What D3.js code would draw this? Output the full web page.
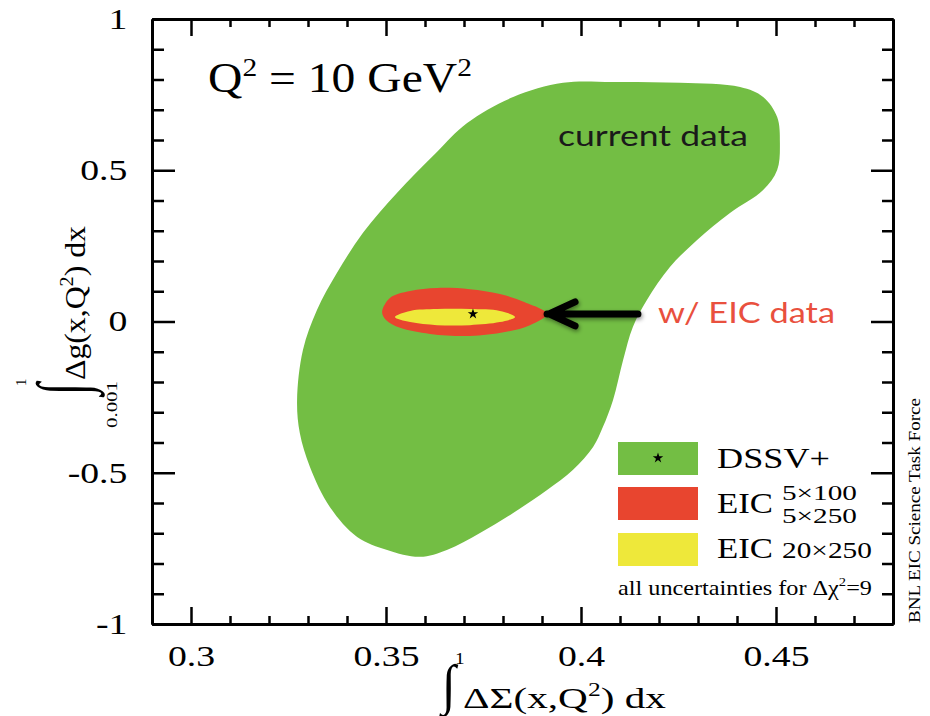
<!DOCTYPE html>
<html>
<head>
<meta charset="utf-8">
<script src="https://cdn.jsdelivr.net/npm/d3@7"></script>
<style>
  body { margin: 0; background: #fff; }
  svg { display: block; }
</style>
</head>
<body>
<div id="chart"></div>
<script>
// axis ticks
var xMajor = [0.3, 0.35, 0.4, 0.45];
var yMajor = [-1, -0.5, 0, 0.5, 1];
var xMinor = [0.31, 0.32, 0.33, 0.34, 0.36, 0.37, 0.38, 0.39, 0.41, 0.42, 0.43, 0.44, 0.46, 0.47];
var yMinor = [-0.9, -0.8, -0.7, -0.6, -0.4, -0.3, -0.2, -0.1, 0.1, 0.2, 0.3, 0.4, 0.6, 0.7, 0.8, 0.9];

// DSSV+ (current data) contour
var currentX = [0.3708, 0.3826, 0.3954, 0.4082, 0.4254, 0.4408, 0.4467, 0.4503, 0.4510, 0.4503,
                0.4467, 0.4382, 0.4297, 0.4228, 0.4169, 0.4133, 0.4108, 0.4082, 0.4056, 0.4031,
                0.3979, 0.3913, 0.3826, 0.3741, 0.3656, 0.3587, 0.3503, 0.3426, 0.3356, 0.3305,
                0.3279, 0.3272, 0.3287, 0.3323, 0.3374, 0.3441, 0.3528, 0.3628];
var currentY = [0.656, 0.742, 0.789, 0.792, 0.789, 0.775, 0.742, 0.676, 0.590, 0.501,
                0.435, 0.359, 0.269, 0.180, 0.071, -0.018, -0.127, -0.260, -0.349, -0.415,
                -0.491, -0.557, -0.633, -0.699, -0.755, -0.778, -0.755, -0.712, -0.613, -0.481,
                -0.369, -0.260, -0.094, 0.038, 0.160, 0.293, 0.425, 0.557];

// EIC 5x100 / 5x250 contour
var eicLowX = [0.3490, 0.3510, 0.3562, 0.3631, 0.3715, 0.3792, 0.3856, 0.3913, 0.3869, 0.3805, 0.3715, 0.3613, 0.3536, 0.3500];
var eicLowY = [0.031, 0.078, 0.101, 0.111, 0.107, 0.091, 0.064, 0.025, -0.012, -0.035, -0.048, -0.041, -0.021, 0.005];

// EIC 20x250 contour
var eicHighX = [0.3523, 0.3562, 0.3631, 0.3715, 0.3792, 0.3831, 0.3792, 0.3715, 0.3631, 0.3562];
var eicHighY = [0.015, 0.035, 0.041, 0.041, 0.035, 0.015, -0.002, -0.012, -0.012, -0.002];

// best fit
var bestX = [0.3723];
var bestY = [0.025];

// arrow (tail, tip)
var arrowX = [0.4146, 0.3913];
var arrowY = [0.025, 0.025];

var W = 930, H = 716;
var GREEN = "#73be44", RED = "#e8452f", YELLOW = "#eee83a";
var SERIF = "'Liberation Serif', 'Times New Roman', serif";
var SANS = "Lato, 'Open Sans', sans-serif";

var x = d3.scaleLinear().domain([0.29, 0.48]).range([152, 893]);
var y = d3.scaleLinear().domain([-1, 1]).range([624, 19]);

var svg = d3.select("#chart").append("svg")
    .attr("width", W)
    .attr("height", H);

var defs = svg.append("defs");
var shadow = defs.append("filter").attr("id", "shadow")
    .attr("x", "-20%").attr("y", "-50%").attr("width", "140%").attr("height", "200%");
shadow.append("feDropShadow")
    .attr("dx", 1).attr("dy", 2).attr("stdDeviation", 2)
    .attr("flood-color", "#000").attr("flood-opacity", 0.45);

var contour = d3.line()
    .x(function(d) { return x(d[0]); })
    .y(function(d) { return y(d[1]); })
    .curve(d3.curveCatmullRomClosed.alpha(0.5));

function zipXY(xs, ys) { return xs.map(function(v, i) { return [v, ys[i]]; }); }

var plot = svg.append("g");
plot.append("path").attr("d", contour(zipXY(currentX, currentY))).attr("fill", GREEN);
plot.append("path").attr("d", contour(zipXY(eicLowX, eicLowY))).attr("fill", RED);
plot.append("path").attr("d", contour(zipXY(eicHighX, eicHighY))).attr("fill", YELLOW);

var star = d3.symbol().type(d3.symbolStar).size(34);
plot.selectAll(".best")
    .data(zipXY(bestX, bestY))
    .enter().append("path")
    .attr("class", "best")
    .attr("transform", function(d) { return "translate(" + x(d[0]) + "," + y(d[1]) + ")"; })
    .attr("d", star)
    .attr("fill", "#000");

// arrow
var tipX = x(arrowX[1]), tipY = y(arrowY[1]);
plot.append("path")
    .attr("d", "M" + x(arrowX[0]) + "," + y(arrowY[0]) + "L" + tipX + "," + tipY +
               "M" + (tipX + 28) + "," + (tipY - 12) + "L" + (tipX + 2) + "," + tipY + "L" + (tipX + 28) + "," + (tipY + 12))
    .attr("fill", "none")
    .attr("stroke", "#000")
    .attr("stroke-width", 7)
    .attr("stroke-linecap", "round")
    .attr("stroke-linejoin", "round")
    .attr("filter", "url(#shadow)");

// axes: frame + inward ticks on all sides
function styleAxis(g, w) {
    g.select(".domain").attr("stroke", "#000").attr("stroke-width", 3);
    g.selectAll(".tick line").attr("stroke", "#000").attr("stroke-width", w);
}
var fmt = function(d) { return String(d); };

svg.append("g").attr("transform", "translate(0," + y(-1) + ")")
    .call(d3.axisBottom(x).tickValues(xMinor).tickSize(-8).tickSizeOuter(0).tickFormat(""))
    .call(styleAxis, 2.5);
var xAxis = svg.append("g").attr("transform", "translate(0," + y(-1) + ")")
    .call(d3.axisBottom(x).tickValues(xMajor).tickSize(-17).tickSizeOuter(0).tickPadding(21).tickFormat(fmt))
    .call(styleAxis, 2.5);
svg.append("g").attr("transform", "translate(0," + y(1) + ")")
    .call(d3.axisTop(x).tickValues(xMinor).tickSize(-8).tickSizeOuter(0).tickFormat(""))
    .call(styleAxis, 2.5);
svg.append("g").attr("transform", "translate(0," + y(1) + ")")
    .call(d3.axisTop(x).tickValues(xMajor).tickSize(-17).tickSizeOuter(0).tickFormat(""))
    .call(styleAxis, 2.5);

svg.append("g").attr("transform", "translate(" + x(0.29) + ",0)")
    .call(d3.axisLeft(y).tickValues(yMinor).tickSize(-12).tickSizeOuter(0).tickFormat(""))
    .call(styleAxis, 2.5);
var yAxis = svg.append("g").attr("transform", "translate(" + x(0.29) + ",0)")
    .call(d3.axisLeft(y).tickValues(yMajor).tickSize(-23).tickSizeOuter(0).tickPadding(19).tickFormat(fmt))
    .call(styleAxis, 2.5);
svg.append("g").attr("transform", "translate(" + x(0.48) + ",0)")
    .call(d3.axisRight(y).tickValues(yMinor).tickSize(-11).tickSizeOuter(0).tickFormat(""))
    .call(styleAxis, 2.5);
svg.append("g").attr("transform", "translate(" + x(0.48) + ",0)")
    .call(d3.axisRight(y).tickValues(yMajor).tickSize(-22).tickSizeOuter(0).tickFormat(""))
    .call(styleAxis, 2.5);

[xAxis, yAxis].forEach(function(a) {
    a.selectAll(".tick text")
        .attr("font-family", SERIF)
        .attr("font-size", 29)
        .attr("fill", "#000")
        .attr("transform", "scale(1.3,1)");
});

// text helper: stretched so the run spans the given width
function fitText(px, py, width, rot, size, font, color, parts) {
    var g = svg.append("g");
    var t = g.append("text")
        .attr("font-family", font)
        .attr("font-size", size)
        .attr("fill", color);
    parts.forEach(function(p) {
        t.append("tspan")
            .attr("font-size", p.size || size)
            .attr("dy", p.dy || 0)
            .text(p.t);
    });
    var w = t.node().getComputedTextLength();
    g.attr("transform", "translate(" + px + "," + py + ")" + (rot ? " rotate(" + rot + ")" : "") +
        " scale(" + (width / w) + ",1)");
    return g;
}

function plain(px, py, txt, size, font, extra) {
    return svg.append("text")
        .attr("transform", "translate(" + px + "," + py + ")" + (extra || ""))
        .attr("font-family", font)
        .attr("font-size", size)
        .attr("fill", "#000")
        .text(txt);
}

// Q^2 label
fitText(208, 92, 264, 0, 42, SERIF, "#000", [
    { t: "Q" }, { t: "2", size: 26, dy: -16 }, { t: " = 10 GeV", dy: 16 }, { t: "2", size: 26, dy: -16 }
]);

// annotations
fitText(558, 146, 190, 0, 28, SANS, "#1a1a1a", [{ t: "current data" }]);
fitText(658, 323, 177, 0, 28, SANS, "#e9503e", [{ t: "w/ EIC data" }]);

// x axis title
plain(442, 703, "\u222B", 44, SERIF, " scale(1.15,1.25)");
plain(455, 664, "1", 16, SERIF, " scale(1.2,1)");
fitText(463, 708, 203, 0, 29, SERIF, "#000", [
    { t: "\u0394\u03A3(x,Q" }, { t: "2", size: 18, dy: -12 }, { t: ") dx", dy: 12 }
]);

// y axis title (rotated)
plain(86, 395, "\u222B", 44, SERIF, " rotate(-90) scale(1,1.6)");
plain(26, 386, "1", 15, SERIF, " rotate(-90)");
fitText(117, 428, 47, -90, 14, SERIF, "#000", [{ t: "0.001" }]);
fitText(85, 380, 154, -90, 30, SERIF, "#000", [
    { t: "\u0394g(x,Q" }, { t: "2", size: 19, dy: -12 }, { t: ") dx", dy: 12 }
]);

// side credit
fitText(920, 623, 225, -90, 16, SERIF, "#000", [{ t: "BNL EIC Science Task Force" }]);

// legend
var legend = svg.append("g");
legend.append("rect").attr("x", 618).attr("y", 442).attr("width", 80).attr("height", 33).attr("fill", GREEN);
legend.append("rect").attr("x", 618).attr("y", 487).attr("width", 80).attr("height", 33).attr("fill", RED);
legend.append("rect").attr("x", 618).attr("y", 533).attr("width", 80).attr("height", 33).attr("fill", YELLOW);
legend.append("path").attr("transform", "translate(658,458)").attr("d", star).attr("fill", "#000");

fitText(717, 468, 113, 0, 30, SERIF, "#000", [{ t: "DSSV+" }]);
fitText(717, 513, 56, 0, 30, SERIF, "#000", [{ t: "EIC" }]);
fitText(782, 500, 75, 0, 22, SERIF, "#000", [{ t: "5\u00D7100" }]);
fitText(782, 523, 75, 0, 22, SERIF, "#000", [{ t: "5\u00D7250" }]);
fitText(717, 558, 56, 0, 30, SERIF, "#000", [{ t: "EIC" }]);
fitText(782, 558, 90, 0, 23, SERIF, "#000", [{ t: "20\u00D7250" }]);
fitText(618, 595, 254, 0, 20, SERIF, "#000", [
    { t: "all uncertainties for \u0394\u03C7" }, { t: "2", size: 12, dy: -9 }, { t: "=9", dy: 9 }
]);
</script>
</body>
</html>
